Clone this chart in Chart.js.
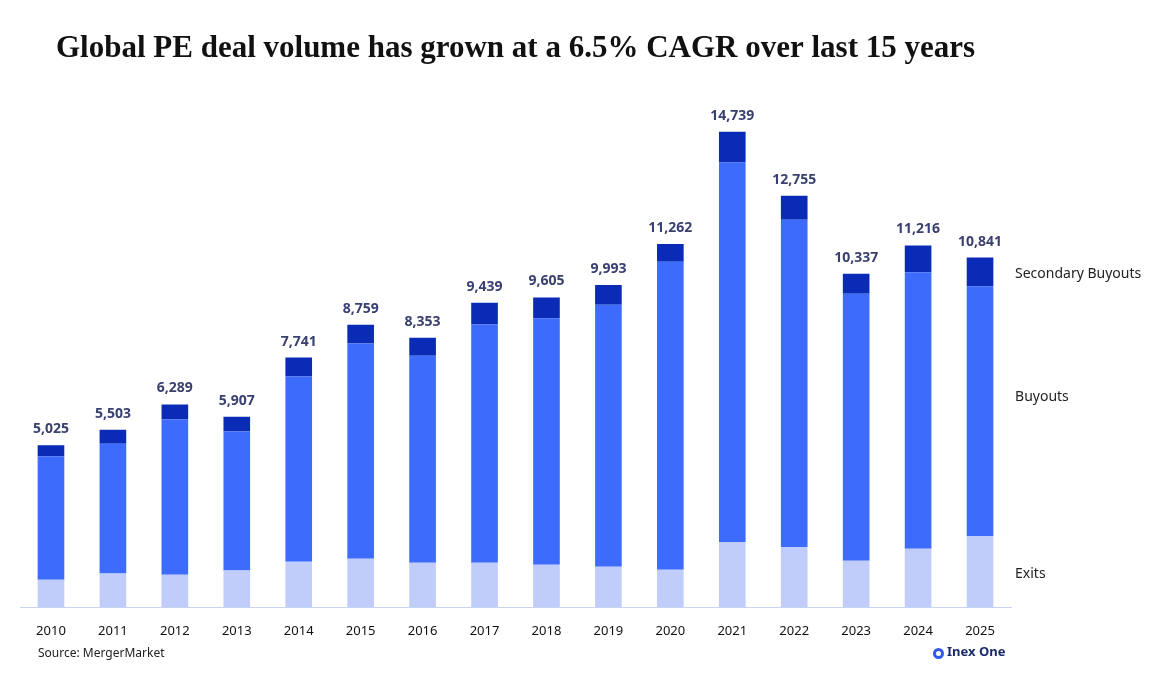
<!DOCTYPE html>
<html><head><meta charset="utf-8">
<script src="https://cdn.jsdelivr.net/npm/chart.js@4"></script>
<style>
body{margin:0;background:#fff;font-family:"Source Sans Pro","Noto Sans",sans-serif}
#wrap{position:relative;width:1164px;height:697px}
#src{position:absolute;left:38px;top:644px;font-size:12px;color:#222}
#logo{position:absolute;left:933px;top:642px;font-size:13px;font-weight:bold;color:#1a2a6c}
#logo span{display:inline-block;width:11px;height:11px;border:3px solid #2f5bea;border-radius:50%;vertical-align:-3px;margin-right:3px;box-sizing:border-box}
</style></head><body>
<div id="wrap"><canvas id="c" width="1164" height="697"></canvas>
<div id="src">Source: MergerMarket</div>
<div id="logo"><span></span>Inex One</div></div>
<script>
const years = ['2010','2011','2012','2013','2014','2015','2016','2017','2018','2019','2020','2021','2022','2023','2024','2025'];
const totals = [5025,5503,6289,5907,7741,8759,8353,9439,9605,9993,11262,14739,12755,10337,11216,10841];
const exits = [860,1050,1015,1140,1415,1510,1385,1385,1320,1260,1170,2030,1875,1445,1815,2215];
const secondary = [340,430,460,460,585,585,555,675,645,615,555,955,740,615,830,890];
const buyouts = totals.map((t,i)=>t-exits[i]-secondary[i]);

const labelPlugin = {
  id:'labels',
  afterDatasetsDraw(chart){
    const ctx = chart.ctx, y = chart.scales.y;
    ctx.save();
    ctx.font = 'bold 14px "Noto Sans", sans-serif';
    ctx.fillStyle = '#3a4070';
    ctx.textAlign = 'center';
    const meta = chart.getDatasetMeta(2);
    meta.data.forEach((b,i)=>{
      ctx.fillText(totals[i].toLocaleString('en-US'), b.x, y.getPixelForValue(totals[i]) - 12);
    });
    // series names beside the last bar
    const n = years.length-1, x = meta.data[n].x + 35;
    ctx.font = '14px "Noto Sans", sans-serif';
    ctx.fillStyle = '#222';
    ctx.textAlign = 'left';
    ctx.textBaseline = 'middle';
    ctx.fillText('Exits', x, y.getPixelForValue(exits[n]/2) + 2);
    ctx.fillText('Buyouts', x, y.getPixelForValue(exits[n] + buyouts[n]/2) - 14);
    ctx.fillText('Secondary Buyouts', x, y.getPixelForValue(totals[n] - secondary[n]/2) + 2);
    ctx.restore();
  }
};

new Chart(document.getElementById('c'), {
  type:'bar',
  data:{labels:years, datasets:[
    {label:'Exits', data:exits, backgroundColor:'#c0cdfb'},
    {label:'Buyouts', data:buyouts, backgroundColor:'#3d6bfb'},
    {label:'Secondary Buyouts', data:secondary, backgroundColor:'#0a2bb5'}
  ]},
  options:{
    responsive:false, animation:false,
    layout:{padding:{left:20, right:153, top:0, bottom:50}},
    datasets:{bar:{barPercentage:0.43, categoryPercentage:1}},
    plugins:{
      legend:{display:false}, tooltip:{enabled:false},
      title:{display:true, text:'Global PE deal volume has grown at a 6.5% CAGR over last 15 years',
        font:{family:'"Liberation Serif", serif', size:31, weight:'bold'}, color:'#111',
        padding:{top:30, bottom:40}}
    },
    scales:{
      x:{stacked:true, grid:{display:false}, border:{color:'#ccd3ee'},
         ticks:{color:'#111', font:{size:13, family:'"Noto Sans", sans-serif'}, padding:8}},
      y:{stacked:true, display:false, min:0, max:15500}
    }
  },
  plugins:[labelPlugin]
});
</script></body></html>
